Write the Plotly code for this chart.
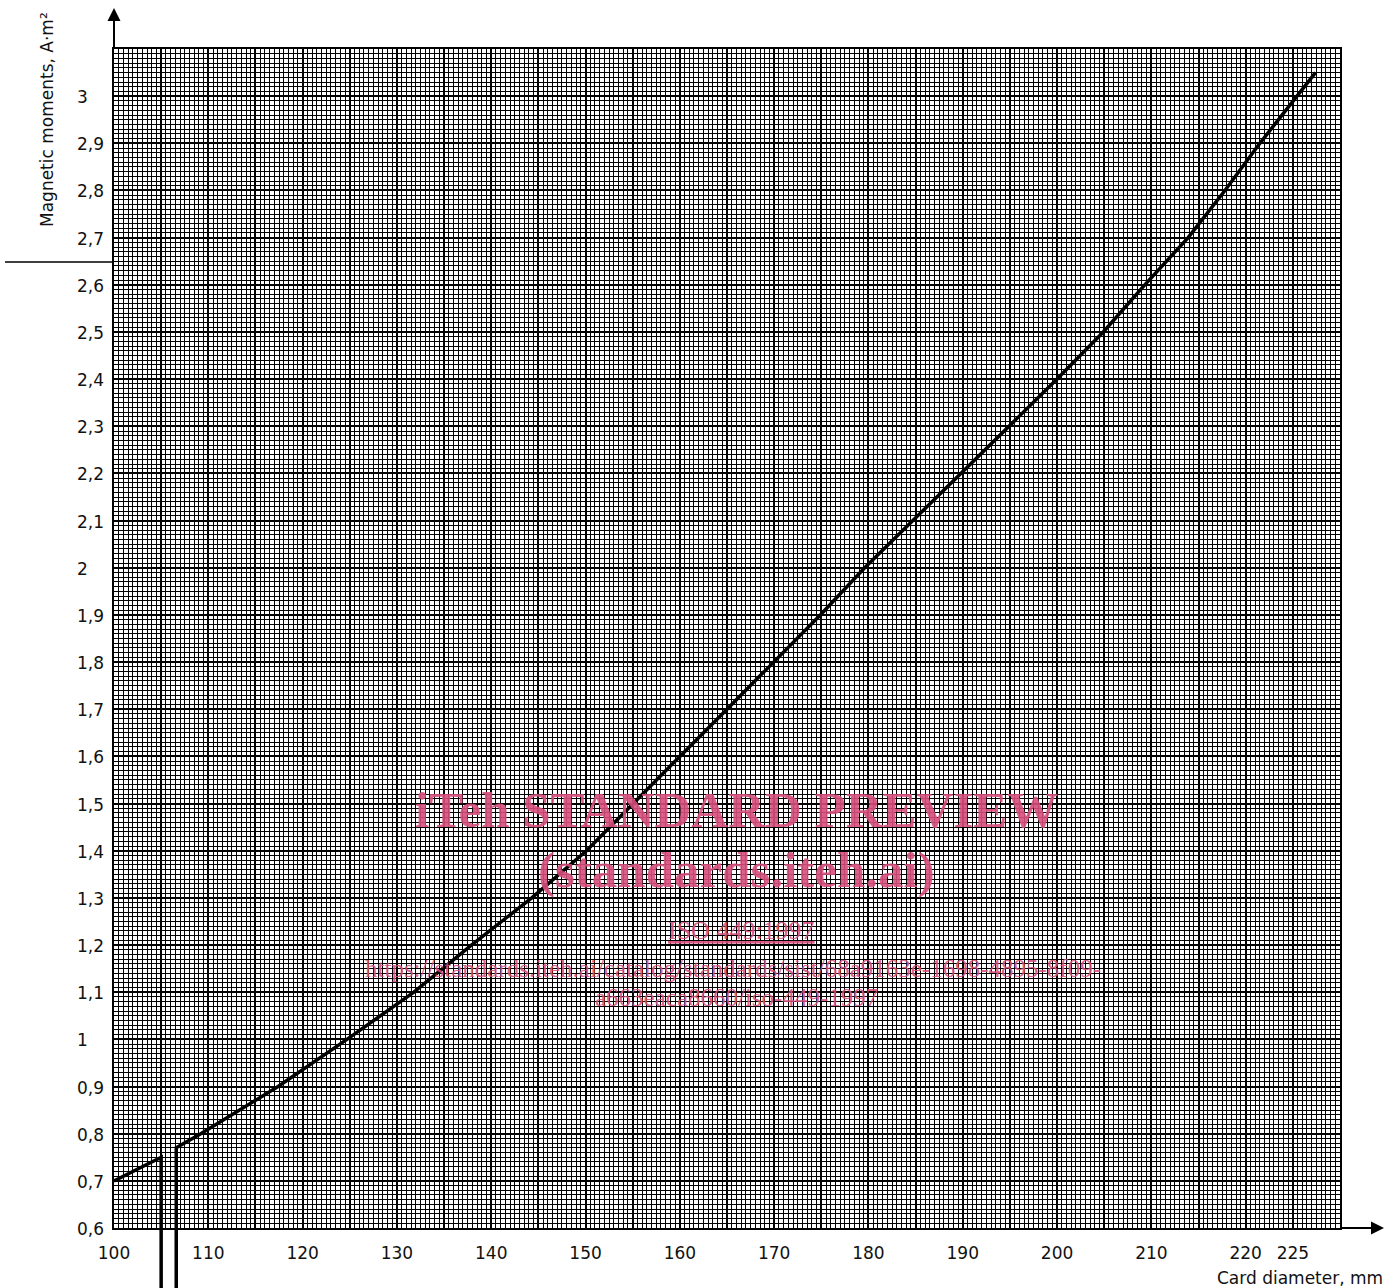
import numpy as np
import plotly.graph_objects as go

# ---- data -------------------------------------------------------------
# short lead-in segment ending in a leader line below the axis
lead_in_diameter = [100.0, 105.0, 105.0]
lead_in_moment = [0.70, 0.75, 0.47]

# main curve: starts with its own leader line from below the axis
curve_diameter = [106.6, 106.6, 109.2, 117.4, 124.7, 131.8, 137.9, 144.3,
                  150.1, 155.0, 160.0, 165.0, 169.9, 174.9, 179.6, 184.7,
                  189.8, 194.9, 200.0, 204.9, 209.3, 213.9, 217.8, 221.5,
                  225.4, 227.4]
curve_moment = [0.47, 0.77, 0.80, 0.90, 1.00, 1.10, 1.20, 1.30,
                1.40, 1.50, 1.60, 1.70, 1.80, 1.90, 2.00, 2.10,
                2.20, 2.30, 2.40, 2.50, 2.60, 2.70, 2.80, 2.90,
                3.00, 3.05]

x_tick_vals = [100, 110, 120, 130, 140, 150, 160, 170, 180, 190, 200, 210, 220, 225]
x_tick_text = ["100", "110", "120", "130", "140", "150", "160", "170", "180",
               "190", "200", "210", "220", "225"]
y_tick_vals = [0.6, 0.7, 0.8, 0.9, 1.0, 1.1, 1.2, 1.3, 1.4, 1.5, 1.6, 1.7, 1.8,
               1.9, 2.0, 2.1, 2.2, 2.3, 2.4, 2.5, 2.6, 2.7, 2.8, 2.9, 3.0]
y_tick_text = ["0,6", "0,7", "0,8", "0,9", "1", "1,1", "1,2", "1,3", "1,4", "1,5",
               "1,6", "1,7", "1,8", "1,9", "2", "2,1", "2,2", "2,3", "2,4", "2,5",
               "2,6", "2,7", "2,8", "2,9", "3"]

X_RANGE = [100, 230]
Y_RANGE = [0.6, 3.1]

# ---- page geometry ----------------------------------------------------
W, H = 1397, 1288
ML, MR, MT, MB = 114, 57, 49, 0
PW = W - ML - MR
PH = H - MT - MB
BELOW = 60                      # strip under the graph paper for leader lines
scale = (PH - BELOW) / (Y_RANGE[1] - Y_RANGE[0])
lower_range = [Y_RANGE[0] - BELOW / scale, Y_RANGE[0]]


def fx(px):
    return (px - ML) / PW


def fy(py):
    return (H - MB - py) / PH


TXT = dict(family="DejaVu Sans", size=17, color="#111111")
INK = "black"
CURVE_W = 3.5

fig = go.Figure()

# curve drawn on the graph paper and again in the strip below it
for xa, ya in (("x", "y"), ("x2", "y2")):
    fig.add_trace(go.Scatter(x=lead_in_diameter, y=lead_in_moment, mode="lines",
                             line=dict(color=INK, width=CURVE_W), xaxis=xa, yaxis=ya,
                             hoverinfo="skip", showlegend=False))
    fig.add_trace(go.Scatter(x=curve_diameter, y=curve_moment, mode="lines",
                             line=dict(color=INK, width=CURVE_W), xaxis=xa, yaxis=ya,
                             hoverinfo="skip", showlegend=False))

major_x = np.arange(X_RANGE[0], X_RANGE[1] + 0.1, 5)
label_of = dict(zip(x_tick_vals, x_tick_text))
major_x_text = [label_of.get(int(v), "") for v in major_x]

fig.update_layout(
    width=W, height=H,
    margin=dict(l=ML, r=MR, t=MT, b=MB, pad=0),
    paper_bgcolor="white", plot_bgcolor="white",
    showlegend=False, hovermode=False,
    xaxis=dict(
        domain=[0, 1], range=X_RANGE, anchor="y",
        tickmode="array", tickvals=major_x, ticktext=major_x_text,
        ticks="", ticklabelstandoff=9, tickfont=TXT,
        showgrid=True, gridcolor=INK, gridwidth=2,
        minor=dict(tick0=100, dtick=0.5, showgrid=True, gridcolor=INK, gridwidth=1),
        showline=True, linecolor=INK, linewidth=2, mirror=True, zeroline=False,
    ),
    yaxis=dict(
        domain=[BELOW / PH, 1], range=Y_RANGE, anchor="x",
        tick0=0, dtick=0.1, ticks="", showticklabels=False,
        showgrid=True, gridcolor=INK, gridwidth=2,
        minor=dict(tick0=0.6, dtick=0.01, showgrid=True, gridcolor=INK, gridwidth=1),
        showline=True, linecolor=INK, linewidth=2, mirror=True, zeroline=False,
    ),
    xaxis2=dict(domain=[0, 1], matches="x", anchor="y2", visible=False),
    yaxis2=dict(domain=[0, BELOW / PH], range=lower_range, anchor="x2", visible=False),
)

# y tick labels, left aligned
for v, t in zip(y_tick_vals, y_tick_text):
    fig.add_annotation(x=fx(75), xref="paper", y=v, yref="y", text=t,
                       showarrow=False, xanchor="left", yanchor="middle",
                       yshift=-1, font=TXT)

# axis arrows
fig.add_annotation(x=X_RANGE[0], xref="x", y=fy(8), yref="paper", ax=0, ay=41,
                   text="", showarrow=True, arrowhead=2, arrowsize=1.3,
                   arrowwidth=2, arrowcolor=INK)
fig.add_annotation(x=fx(1384), xref="paper", y=Y_RANGE[0], yref="y", ax=-44, ay=0,
                   text="", showarrow=True, arrowhead=2, arrowsize=1.3,
                   arrowwidth=2, arrowcolor=INK)

# axis titles
fig.add_annotation(x=fx(47), xref="paper", y=fy(120), yref="paper",
                   text="Magnetic moments, A·m²", textangle=-90, showarrow=False,
                   xanchor="center", yanchor="middle", font=TXT)
fig.add_annotation(x=fx(1385), xref="paper", y=fy(1278), yref="paper",
                   text="Card diameter, mm", showarrow=False,
                   xanchor="right", yanchor="middle", font=TXT)

# separator rule beside the axis title
fig.add_shape(type="line", xref="paper", yref="paper",
              x0=fx(5), x1=fx(114), y0=fy(262), y1=fy(262),
              line=dict(color=INK, width=1.5))

# preview watermark
PINK = "rgba(214, 78, 124, 0.9)"
fig.add_annotation(x=fx(736), xref="paper", y=fy(810), yref="paper",
                   text="<b>iTeh STANDARD PREVIEW</b>", showarrow=False,
                   font=dict(family="Liberation Serif", size=51, color=PINK))
fig.add_annotation(x=fx(736), xref="paper", y=fy(870), yref="paper",
                   text="<b>(standards.iteh.ai)</b>", showarrow=False,
                   font=dict(family="Liberation Serif", size=51, color=PINK))
fig.add_annotation(x=fx(741), xref="paper", y=fy(947), yref="paper",
                   text="<u>ISO 449:1997</u>", showarrow=False,
                   font=dict(family="Liberation Serif", size=26, color=PINK))
fig.add_annotation(x=fx(733), xref="paper", y=fy(984), yref="paper",
                   text="https://standards.iteh.ai/catalog/standards/sist/68a9163e-1698-4895-8f09-",
                   showarrow=False,
                   font=dict(family="Liberation Serif", size=25, color=PINK))
fig.add_annotation(x=fx(736), xref="paper", y=fy(1013), yref="paper",
                   text="a663eaca8660/iso-449-1997", showarrow=False,
                   font=dict(family="Liberation Serif", size=25, color=PINK))

fig.write_html("out.html", config={"displayModeBar": False})
